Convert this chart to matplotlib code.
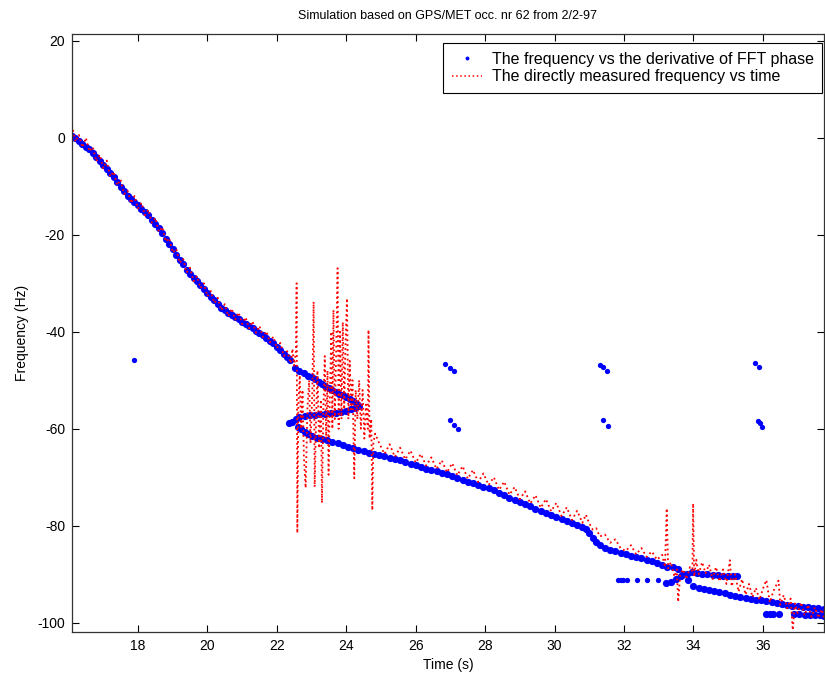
import numpy as np
import matplotlib
matplotlib.use("Agg")
import matplotlib.pyplot as plt
from matplotlib.lines import Line2D

plt.rcParams['font.family'] = ['Liberation Sans', 'DejaVu Sans']
plt.rcParams['axes.unicode_minus'] = False

# ---------------- data ----------------
# Blue: frequency from derivative of FFT phase (dots)
blue_a_t = [16.1, 16.2, 16.3, 16.4, 16.5, 16.6, 16.7, 16.8, 16.9, 17.0,
            17.1, 17.2, 17.3, 17.4, 17.5, 17.6, 17.7, 17.8, 17.9, 18.0,
            18.1, 18.2, 18.3, 18.4, 18.5, 18.6, 18.7, 18.8, 18.9, 19.0,
            19.1, 19.2, 19.3, 19.4, 19.5, 19.6, 19.7, 19.8, 19.9, 20.0,
            20.1, 20.2, 20.3, 20.4, 20.5, 20.6, 20.7, 20.8, 20.9, 21.0,
            21.1, 21.2, 21.3, 21.4, 21.5, 21.6, 21.7, 21.8, 21.9, 22.0,
            22.1, 22.2, 22.3, 22.38]
blue_a_f = [0.3, -0.1, -0.7, -1.3, -1.9, -2.4, -3.2, -4.0, -4.8, -5.6,
            -6.5, -7.3, -8.1, -9.1, -10.1, -11.0, -12.0, -12.7, -13.3, -13.9,
            -14.6, -15.2, -16.0, -16.9, -17.8, -18.6, -19.6, -20.8, -21.9, -23.0,
            -24.1, -25.1, -26.1, -27.2, -28.0, -28.9, -29.6, -30.4, -31.2, -32.0,
            -32.8, -33.5, -34.3, -35.0, -35.6, -36.2, -36.6, -37.0, -37.4, -37.9,
            -38.4, -38.9, -39.3, -39.8, -40.2, -40.7, -41.2, -41.8, -42.4, -43.1,
            -43.8, -44.5, -45.3, -45.8]

blue_b_t = [22.53, 22.65, 22.77, 22.9, 23.0, 23.1, 23.2, 23.3, 23.4, 23.5,
            23.6, 23.7, 23.8, 23.9, 24.0, 24.1, 24.2, 24.3, 24.38, 24.25,
            24.15, 24.0, 23.85, 23.7, 23.55, 23.4, 23.25, 23.1, 22.95, 22.8,
            22.65, 22.55, 22.45, 22.35]
blue_b_f = [-47.5, -48.0, -48.5, -49.1, -49.4, -49.8, -50.3, -50.8, -51.2, -51.6,
            -52.0, -52.4, -52.8, -53.1, -53.5, -53.9, -54.3, -54.8, -55.2, -55.7,
            -56.0, -56.4, -56.6, -56.7, -56.8, -56.9, -57.0, -57.1, -57.2, -57.4,
            -57.6, -57.9, -58.6, -58.8]

blue_c_t = [22.6, 22.7, 22.8, 22.9, 23.0, 23.15, 23.3, 23.45, 23.6, 23.75,
            23.9, 24.05, 24.2, 24.35, 24.5, 24.65, 24.8, 24.95, 25.1, 25.25,
            25.4, 25.55, 25.7, 25.85, 26.0, 26.15, 26.3, 26.45, 26.6, 26.75,
            26.9, 27.05, 27.2, 27.35, 27.5, 27.65, 27.8, 27.95, 28.1, 28.25,
            28.4, 28.55, 28.7, 28.85, 29.0, 29.15, 29.3, 29.45, 29.6, 29.75,
            29.9, 30.05, 30.2, 30.35, 30.5, 30.65, 30.8, 30.9, 31.0, 31.1,
            31.2, 31.3, 31.45, 31.6, 31.75, 31.9, 32.05, 32.2, 32.35, 32.5,
            32.65, 32.8, 32.95, 33.1, 33.25, 33.4, 33.55, 33.7, 33.85, 34.0,
            34.15, 34.3, 34.45, 34.6, 34.75, 34.9, 35.05, 35.2, 35.35, 35.5,
            35.65, 35.8, 35.95, 36.1, 36.25, 36.4, 36.55, 36.7, 36.85, 37.0,
            37.15, 37.3, 37.45, 37.6, 37.75]
blue_c_f = [-59.7, -60.1, -60.6, -61.0, -61.4, -61.8, -62.1, -62.4, -62.7, -63.0,
            -63.4, -63.7, -64.0, -64.3, -64.6, -64.9, -65.1, -65.4, -65.7, -66.0,
            -66.2, -66.5, -66.9, -67.2, -67.5, -67.8, -68.2, -68.5, -68.8, -69.1,
            -69.4, -69.8, -70.2, -70.5, -70.9, -71.2, -71.6, -71.9, -72.2, -72.7,
            -73.2, -73.7, -74.2, -74.7, -75.1, -75.6, -76.0, -76.5, -76.9, -77.3,
            -77.7, -78.1, -78.6, -79.0, -79.4, -79.8, -80.2, -80.7, -81.5, -82.6,
            -83.4, -84.0, -84.6, -85.0, -85.3, -85.6, -85.9, -86.2, -86.4, -86.7,
            -87.0, -87.3, -87.6, -88.0, -88.4, -88.6, -89.0, -90.0, -91.2, -92.4,
            -92.8, -93.0, -93.3, -93.5, -93.7, -93.9, -94.2, -94.4, -94.6, -94.8,
            -95.0, -95.2, -95.4, -95.6, -95.8, -96.0, -96.2, -96.3, -96.5, -96.6,
            -96.7, -96.8, -96.9, -97.0, -97.1]

blue_d_t = [33.2, 33.35, 33.5, 33.65, 33.8, 33.95, 34.1, 34.25, 34.4, 34.55,
            34.7, 34.85, 35.0, 35.15, 35.25]
blue_d_f = [-91.8, -91.5, -91.0, -90.4, -89.9, -89.6, -89.7, -89.9, -90.0, -90.1,
            -90.2, -90.3, -90.3, -90.4, -90.4]

blue_e_t = [36.1, 36.2, 36.3, 36.45, 36.9, 37.05, 37.2, 37.35, 37.5, 37.65, 37.75]
blue_e_f = [-98.1, -98.1, -98.2, -98.2, -98.1, -98.2, -98.3, -98.3, -98.4, -98.4, -98.5]

blue_iso_t = [17.9, 26.85, 27.0, 27.09, 27.0, 27.09, 27.23, 31.31, 31.4, 31.52,
              31.4, 31.53, 35.77, 35.9, 35.86, 35.91, 35.98,
              31.83, 31.9, 31.98, 32.1, 32.36, 32.65, 32.98]
blue_iso_f = [-45.8, -46.7, -47.5, -48.1, -58.1, -59.2, -60.1, -46.9, -47.3, -48.0,
              -58.2, -59.4, -46.5, -47.3, -58.3, -58.9, -59.7,
              -91.2, -91.2, -91.2, -91.2, -91.2, -91.2, -91.2]

# Red: directly measured frequency vs time (dotted line)
red_t = [16.1, 16.2, 16.3, 16.4, 16.5, 16.6, 16.7, 16.8, 16.9, 17.0,
         17.1, 17.2, 17.3, 17.4, 17.5, 17.6, 17.7, 17.8, 17.9, 18.0,
         18.1, 18.2, 18.3, 18.4, 18.5, 18.6, 18.7, 18.8, 18.9, 19.0,
         19.1, 19.2, 19.3, 19.4, 19.5, 19.6, 19.7, 19.8, 19.9, 20.0,
         20.1, 20.2, 20.3, 20.4, 20.5, 20.6, 20.7, 20.8, 20.9, 21.0,
         21.1, 21.2, 21.3, 21.4, 21.5, 21.6, 21.7, 21.8, 21.9, 22.0,
         22.1, 22.2, 22.3, 22.4,
         22.45, 22.50, 22.55, 22.57, 22.59, 22.62, 22.66, 22.70, 22.74, 22.78,
         22.83, 22.88, 22.93, 22.97, 23.02, 23.06, 23.09, 23.13, 23.17, 23.22,
         23.27, 23.30, 23.34, 23.38, 23.42, 23.46, 23.49, 23.53, 23.57, 23.60,
         23.63, 23.67, 23.71, 23.75, 23.78, 23.82, 23.86, 23.90, 23.94, 23.98,
         24.02, 24.06, 24.10, 24.14, 24.18, 24.23, 24.27, 24.32, 24.37, 24.42,
         24.47, 24.52, 24.57, 24.62, 24.64, 24.67, 24.72, 24.75, 24.78, 24.83,
         24.95, 25.1, 25.25, 25.4, 25.55, 25.7, 25.85, 26.0, 26.15, 26.3,
         26.45, 26.6, 26.75, 26.9, 27.05, 27.2, 27.35, 27.5, 27.65, 27.8,
         27.95, 28.1, 28.25, 28.4, 28.55, 28.7, 28.85, 29.0, 29.15, 29.3,
         29.45, 29.6, 29.75, 29.9, 30.05, 30.2, 30.35, 30.5, 30.65, 30.8,
         30.9, 31.0, 31.1, 31.2, 31.3, 31.45, 31.6, 31.75, 31.9, 32.05,
         32.2, 32.35, 32.5, 32.65, 32.8, 32.95, 33.1,
         33.18, 33.23, 33.27, 33.35, 33.45, 33.52, 33.56, 33.62, 33.7, 33.8,
         33.9, 33.97, 33.99, 34.02, 34.08, 34.15, 34.25, 34.35, 34.45, 34.55,
         34.65, 34.75, 34.85, 34.95, 35.05, 35.1, 35.2, 35.3, 35.4, 35.5,
         35.6, 35.7, 35.8, 35.9, 36.0, 36.1, 36.2, 36.3, 36.45, 36.5,
         36.6, 36.7, 36.8, 36.86, 36.92, 37.0, 37.1, 37.2, 37.3, 37.4,
         37.5, 37.6, 37.7, 37.76]
red_f = [2.6, -0.8, 0.6, -2.0, 0.0, -2.8, -1.9, -4.9, -3.5, -6.3,
         -4.7, -8.0, -7.0, -9.8, -8.6, -11.6, -10.9, -13.5, -12.0, -14.6,
         -13.4, -16.0, -14.8, -17.5, -16.5, -19.4, -18.4, -21.4, -20.7, -23.7,
         -22.9, -25.8, -24.9, -27.8, -26.8, -29.6, -28.5, -31.0, -30.0, -32.7,
         -31.6, -34.1, -33.0, -35.6, -34.3, -36.8, -35.2, -37.5, -36.0, -38.4,
         -37.0, -39.3, -37.8, -40.2, -38.8, -41.1, -39.9, -42.2, -41.0, -43.4,
         -42.3, -45.0, -44.0, -46.5,
         -43.5, -47.0, -44.0, -30.0, -81.5, -55.0, -49.0, -60.0, -52.0, -66.0,
         -72.2, -56.0, -50.0, -63.0, -53.0, -33.8, -72.0, -58.0, -48.0, -64.0,
         -54.0, -75.3, -56.0, -45.0, -62.0, -48.0, -69.5, -52.0, -40.0, -60.0,
         -35.5, -58.0, -44.0, -26.9, -60.0, -40.0, -58.0, -38.0, -56.0, -42.0,
         -33.1, -58.0, -46.0, -56.0, -50.0, -70.2, -52.0, -58.0, -50.0, -60.0,
         -52.0, -62.0, -55.0, -60.0, -39.6, -62.0, -58.0, -76.8, -63.0, -61.0,
         -63.0, -65.2, -63.2, -65.8, -63.9, -66.3, -64.5, -67.0, -65.2, -67.6,
         -65.9, -68.3, -66.5, -69.0, -67.1, -69.6, -67.7, -70.3, -68.5, -71.0,
         -69.2, -71.6, -70.0, -72.6, -70.9, -73.6, -72.0, -74.5, -72.9, -75.4,
         -73.7, -76.3, -74.5, -77.0, -75.3, -78.0, -76.2, -78.8, -76.9, -79.4,
         -77.7, -79.5, -80.8, -80.5, -82.2, -81.8, -83.5, -82.8, -84.6, -85.2,
         -84.0, -85.9, -84.6, -86.4, -85.3, -87.0, -86.0,
         -88.5, -76.4, -88.8, -87.5, -90.5, -89.0, -95.7, -90.0, -89.0, -91.0,
         -88.5, -89.5, -75.4, -90.5, -87.0, -90.0, -87.5, -89.8, -88.0, -91.0,
         -88.5, -91.5, -89.0, -92.0, -87.1, -92.5, -90.0, -93.6, -91.0, -94.2,
         -92.0, -94.7, -92.8, -95.3, -93.0, -91.2, -95.8, -93.5, -91.3, -96.3,
         -94.3, -97.0, -95.0, -101.5, -96.0, -98.0, -95.8, -98.5, -96.3, -98.8,
         -96.8, -99.0, -97.2, -99.2]

title = "Simulation based on GPS/MET occ. nr 62 from 2/2-97"
xlabel = "Time (s)"
ylabel = "Frequency (Hz)"
legend_labels = ["The frequency vs the derivative of FFT phase",
                 "The directly measured frequency vs time"]
xticks = [18, 20, 22, 24, 26, 28, 30, 32, 34, 36]
yticks = [20, 0, -20, -40, -60, -80, -100]

# ---------------- plot ----------------
blue_t = np.concatenate([blue_a_t, blue_b_t, blue_c_t, blue_d_t, blue_e_t])
blue_f = np.concatenate([blue_a_f, blue_b_f, blue_c_f, blue_d_f, blue_e_f])

fig = plt.figure(figsize=(8.25, 6.78), dpi=100)
ax = fig.add_axes([72/825, 1 - 632/678, (824 - 72)/825, (632 - 34)/678])

ax.plot(blue_t, blue_f, linestyle='none', marker='o', ms=5.2, mew=0,
        color=(0, 0, 1))
ax.plot(blue_iso_t, blue_iso_f, linestyle='none', marker='o', ms=3.8, mew=0,
        color=(0, 0, 1))
ax.plot(red_t, red_f, linestyle=(0, (1, 1.7)), lw=1.3, color=(1, 0, 0))

ax.set_xlim(16.1, 37.76)
ax.set_ylim(-101.9, 21.4)
ax.set_xticks(xticks)
ax.set_yticks(yticks)
ax.tick_params(direction='in', top=True, right=True, length=5, width=0.8,
               labelsize=10, colors='black', pad=5)
for s in ax.spines.values():
    s.set_linewidth(0.9)
    s.set_color('#333333')

ax.set_title(title, fontsize=9, pad=11)
ax.set_xlabel(xlabel, fontsize=10, labelpad=4)
ax.set_ylabel(ylabel, fontsize=10, labelpad=6)

h_blue = Line2D([], [], linestyle='none', marker='o', ms=2.8, mew=0, color=(0, 0, 1))
h_red = Line2D([], [], linestyle=(0, (1, 1.7)), lw=1.1, color=(1, 0, 0))
leg = ax.legend([h_blue, h_red], legend_labels, loc='upper right',
                bbox_to_anchor=(0.998, 0.985), borderaxespad=0, fontsize=11.5,
                fancybox=False, framealpha=1, edgecolor='black',
                handlelength=1.9, handletextpad=0.6, borderpad=0.55,
                labelspacing=0.15)
leg.get_frame().set_linewidth(0.8)

fig.savefig("out.png", dpi=100)
